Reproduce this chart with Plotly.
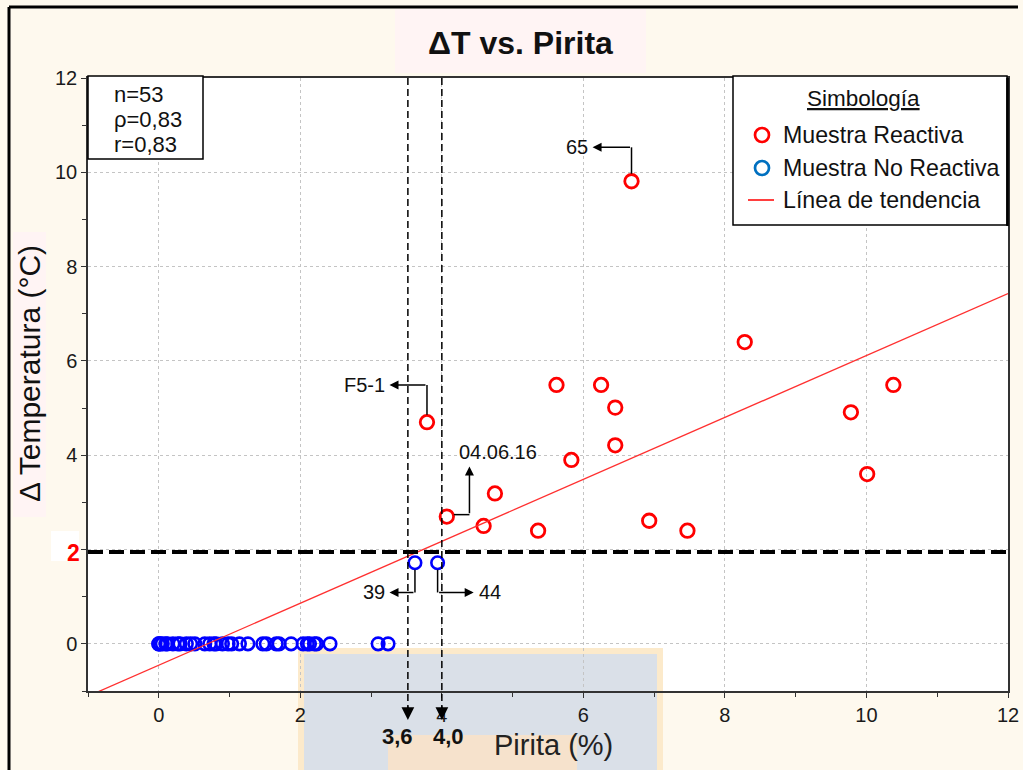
import plotly.graph_objects as go

# ---------------- data ----------------
reactive_x = [6.68, 8.28, 5.62, 6.25, 6.45, 10.38, 9.78, 3.79, 6.45, 5.83, 10.01, 4.75, 4.07, 4.59, 6.93, 5.36, 7.47]
reactive_y = [9.81, 6.40, 5.49, 5.49, 5.01, 5.49, 4.91, 4.70, 4.21, 3.90, 3.60, 3.19, 2.70, 2.50, 2.61, 2.40, 2.40]

nonreactive_x = [0.0, 0.0, 0.02, 0.05, 0.10, 0.12, 0.20, 0.27, 0.30, 0.39, 0.45, 0.51, 0.65, 0.72,
                 0.78, 0.81, 0.90, 0.98, 1.03, 1.14, 1.26, 1.47, 1.52, 1.66, 1.70, 1.87, 2.04, 2.10,
                 2.13, 2.20, 2.23, 2.42, 3.10, 3.24, 3.62, 3.94]
nonreactive_y = [0, 0, 0, 0, 0, 0, 0, 0, 0, 0, 0, 0, 0, 0,
                 0, 0, 0, 0, 0, 0, 0, 0, 0, 0, 0, 0, 0, 0,
                 0, 0, 0, 0, 0, 0, 1.72, 1.72]

trend_x = [-1.0, 12.0]
trend_y = [-1.11, 7.43]

tick_values = [0, 2, 4, 6, 8, 10, 12]
x_tick_text = ["0", "2", "4", "6", "8", "10", "12"]
y_tick_text = ["0", "", "4", "6", "8", "10", "12"]   # the "2" is drawn in red below

threshold_y = 1.95
threshold_label = "2"
pyrite_lines_x = [3.52, 4.0]
pyrite_labels = ["3,6", "4,0"]

stats_lines = ["n=53", "ρ=0,83", "r=0,83"]
legend_title = "Simbología"
legend_labels = ["Muestra Reactiva", "Muestra No Reactiva", "Línea de tendencia"]

title_text = "ΔT vs. Pirita"
x_title = "Pirita (%)"
y_title = "Δ Temperatura (°C)"

# callouts: label, connector path (data units), arrow tip, label position, anchor
callouts = [
    dict(label="65", path=[(6.68, 9.97), (6.68, 10.53)], tip=(6.13, 10.53), pos=(6.09, 10.53), anchor="right"),
    dict(label="F5-1", path=[(3.79, 4.86), (3.79, 5.49)], tip=(3.26, 5.49), pos=(3.22, 5.49), anchor="right"),
    dict(label="04.06.16", path=[(4.17, 2.74), (4.39, 2.74)], tip=(4.39, 3.76), pos=(4.79, 4.07), anchor="center"),
    dict(label="39", path=[(3.62, 1.57), (3.62, 1.09)], tip=(3.26, 1.09), pos=(3.22, 1.09), anchor="right"),
    dict(label="44", path=[(3.94, 1.57), (3.94, 1.09)], tip=(4.45, 1.09), pos=(4.49, 1.09), anchor="left"),
]

# ---------------- layout helpers ----------------
W, H = 1023, 770
L, R, T, B = 88, 1008, 78, 691
FONT = "Liberation Sans, Arial, sans-serif"
CREAM = "#FEF9EE"
PINK = "#FFF4F4"


def px(x):
    return (x - L) / (R - L)


def py(y):
    return (B - y) / (B - T)


def rect(x0, y0, x1, y1, fill, line=None, lw=0, layer="below"):
    return dict(type="rect", xref="paper", yref="paper",
                x0=px(x0), x1=px(x1), y0=py(y1), y1=py(y0),
                fillcolor=fill, line=dict(color=line or fill, width=lw), layer=layer)


def pline(x0, y0, x1, y1, color, width, layer="above", dash=None):
    d = dict(color=color, width=width)
    if dash:
        d["dash"] = dash
    return dict(type="line", xref="paper", yref="paper",
                x0=px(x0), x1=px(x1), y0=py(y0), y1=py(y1), line=d, layer=layer)


def ptext(x, y, text, size, color="#111", xanchor="center", **kw):
    d = dict(x=px(x), y=py(y), xref="paper", yref="paper", text=text, showarrow=False,
             xanchor=xanchor, yanchor="middle", font=dict(family=FONT, size=size, color=color))
    d.update(kw)
    return d


fig = go.Figure()

fig.add_trace(go.Scatter(
    x=nonreactive_x, y=nonreactive_y, mode="markers", name=legend_labels[1],
    marker=dict(symbol="circle-open", size=12.5, color="#0000FF", line=dict(width=2.6, color="#0000FF")),
    showlegend=False))
fig.add_trace(go.Scatter(
    x=reactive_x, y=reactive_y, mode="markers", name=legend_labels[0],
    marker=dict(symbol="circle-open", size=13.5, color="#FF0000", line=dict(width=2.8, color="#FF0000")),
    showlegend=False))
fig.add_trace(go.Scatter(
    x=trend_x, y=trend_y, mode="lines", name=legend_labels[2],
    line=dict(color="#FF3030", width=1.3), showlegend=False))

shapes = []
# background decorations
shapes.append(rect(395, 9, 646, 73, PINK))                       # title panel
shapes.append(rect(13, 232, 46, 517, PINK))                      # y title panel
shapes.append(rect(298, 648, 663, 775, "#FCEACB"))               # watermark frame
shapes.append(rect(304, 654, 657, 775, "#DAE0E8"))               # watermark
shapes.append(rect(388, 735, 577, 775, "#F6E2CC"))
# frame of the figure
shapes.append(pline(9, 7, 1018, 7, "black", 3, layer="below"))
shapes.append(pline(9, 7, 9, 775, "black", 3, layer="below"))

# threshold lines
shapes.append(dict(type="line", xref="x", yref="y", x0=-1, x1=12, y0=threshold_y, y1=threshold_y,
                   line=dict(color="black", width=4, dash="15px,6px"), layer="above"))
for xv in pyrite_lines_x:
    shapes.append(dict(type="line", xref="x", yref="paper", x0=xv, x1=xv, y0=1.0, y1=py(708),
                       line=dict(color="black", width=1.5, dash="7px,4px"), layer="above"))

# callout connectors
for c in callouts:
    (x0, y0), (x1, y1) = c["path"]
    shapes.append(dict(type="line", xref="x", yref="y", x0=x0, y0=y0, x1=x1, y1=y1,
                       line=dict(color="black", width=1.5), layer="above"))

# white box behind the red "2"
shapes.append(rect(51, 531, 79, 561, "white", layer="above"))

# stats box
shapes.append(rect(88, 76, 203, 159, "white", "black", 1.5, layer="above"))

# legend box
shapes.append(rect(733, 76, 1007, 225, "white", "black", 1.5, layer="above"))
shapes.append(pline(1007.5, 78, 1007.5, 226, "black", 2.5))
rad = 7
for cy, col in [(135, "#FF0000"), (168, "#0070C0")]:
    shapes.append(dict(type="circle", xref="paper", yref="paper",
                       x0=px(762 - rad), x1=px(762 + rad), y0=py(cy + rad), y1=py(cy - rad),
                       line=dict(color=col, width=2.7), fillcolor="rgba(0,0,0,0)", layer="above"))
shapes.append(pline(748, 200, 774, 200, "#FF2A2A", 1.8))

ann = []
ann.append(ptext(520, 43, "<b>" + title_text + "</b>", 32))
ann.append(ptext(29, 374, y_title, 30, textangle=-90))
ann.append(ptext(553, 745, x_title, 29, color="#222"))
ann.append(ptext(73, 553, "<b>" + threshold_label + "</b>", 23, color="#FF0000"))
for xv, lab, shift in zip(pyrite_lines_x, pyrite_labels, [-10, 7]):
    ann.append(dict(x=xv, y=py(737), xref="x", yref="paper", text="<b>" + lab + "</b>", xshift=shift,
                    xanchor="center", yanchor="middle",
                    showarrow=False, font=dict(family=FONT, size=22, color="#111")))
    ann.append(dict(x=xv, y=py(720), xref="x", yref="paper", ax=0, ay=-15, text="",
                    showarrow=True, arrowhead=2, arrowsize=1.7, arrowwidth=1.5, arrowcolor="black"))

for line_text, ly in zip(stats_lines, [95, 119, 144]):
    ann.append(ptext(112, ly, line_text, 22, xanchor="left"))

ann.append(ptext(863, 98, "<u>" + legend_title + "</u>", 22.5))
for lab, cy in zip(legend_labels, [135, 168, 200]):
    ann.append(ptext(781, cy, lab, 23.2, xanchor="left"))

for c in callouts:
    x1, y1 = c["path"][-1]
    ann.append(dict(x=c["tip"][0], y=c["tip"][1], ax=x1, ay=y1, xref="x", yref="y", axref="x", ayref="y",
                    text="", showarrow=True, arrowhead=2, arrowsize=1.2, arrowwidth=1.5, arrowcolor="black"))
    ann.append(dict(x=c["pos"][0], y=c["pos"][1], xref="x", yref="y", text=c["label"],
                    xanchor=c["anchor"], yanchor="middle", showarrow=False,
                    font=dict(family=FONT, size=20, color="#111")))

axis_common = dict(
    range=[-1, 12], tickmode="array", tickvals=tick_values, automargin=False,
    showgrid=True, gridcolor="#c4c4c4", griddash="dot", gridwidth=1,
    zeroline=False, showline=True, linecolor="#333", linewidth=1.5, mirror=True,
    ticks="outside", ticklen=5, tickcolor="#333", tickwidth=1,
    tickfont=dict(family=FONT, size=20, color="#1a1a1a"),
    minor=dict(tickmode="linear", dtick=1, tick0=0, ticks="outside", ticklen=4, tickcolor="#333", showgrid=False),
)

fig.update_layout(
    width=W, height=H, autosize=False,
    margin=dict(l=L, r=W - R, t=T, b=H - B, pad=0, autoexpand=False),
    paper_bgcolor=CREAM, plot_bgcolor="white",
    xaxis=dict(**axis_common, ticktext=x_tick_text),
    yaxis=dict(**axis_common, ticktext=y_tick_text),
    shapes=shapes, annotations=ann, showlegend=False,
)

fig.write_html(
    "out.html",
    config={"responsive": False},
    post_script="document.documentElement.style.overflow='hidden';document.body.style.overflow='hidden';document.body.style.margin='0';",
)
